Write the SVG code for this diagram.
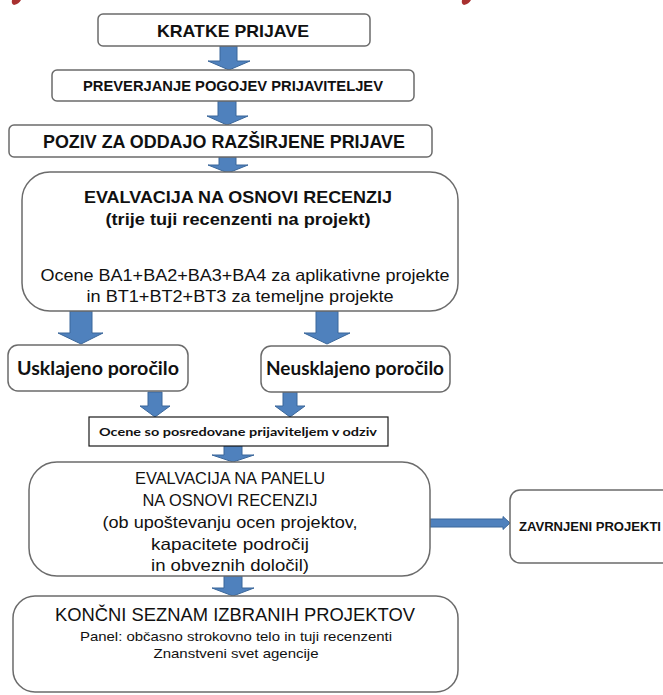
<svg xmlns="http://www.w3.org/2000/svg" width="663" height="695" viewBox="0 0 663 695">
<defs>
<style>
.box{fill:#ffffff;stroke:#6b6b6b;stroke-width:1.5}
.sq{fill:#ffffff;stroke:#1a1a1a;stroke-width:1.2}
.arr{fill:#4f81bd;stroke:#3b679a;stroke-width:1}
.t{font-family:"Liberation Sans",Arial,sans-serif;fill:#111;text-anchor:middle}
.b{font-weight:bold}
.c{font-family:Lato,"Open Sans","Liberation Sans",sans-serif;fill:#111;text-anchor:middle;font-weight:bold}
</style>
</defs>
<rect width="663" height="695" fill="#ffffff"/>
<g id="title-fragments" fill="#a8302f">
<path d="M12 0 L21 0 Q19 4 14 5 Q11 4 12 0 Z"/>
<path d="M462 0 L471 0 Q469 4 464 5 Q461 4 462 0 Z"/>
</g>
<g id="connectors">
<path class="arr" d="M220 46 H237 V61 H250 L229 70 L208 61 H220 Z"/>
<path class="arr" d="M218 101 H236 V116 H248 L227 125 L207 116 H218 Z"/>
<path class="arr" d="M219 157 H236 V165 H248 L228 173 L208 165 H219 Z"/>
<path class="arr" d="M70 311 H92 V333 H103 L81 344 L58 333 H70 Z"/>
<path class="arr" d="M316 311 H338 V333 H350 L327 344 L304 333 H316 Z"/>
<path class="arr" d="M148 392 H162 V406 H170 L155 417 L140 406 H148 Z"/>
<path class="arr" d="M283 392 H297 V406 H305 L290 417 L275 406 H283 Z"/>
<path class="arr" d="M224 446 H242 V455 H254 L233 462 L212 455 H224 Z"/>
<path class="arr" d="M224 576 H242 V588 H254 L233 596 L212 588 H224 Z"/>
<path class="arr" d="M430 519 H503 V516.5 L510 523 L503 529.5 V527 H430 Z"/>
</g>
<g id="n1"><rect class="box" x="98" y="14" width="272" height="32" rx="5"/>
<text class="t b" x="233" y="37" font-size="17" textLength="152" lengthAdjust="spacingAndGlyphs">KRATKE PRIJAVE</text></g>
<g id="n2"><rect class="box" x="52" y="70" width="362" height="31" rx="5"/>
<text class="t b" x="233" y="91" font-size="14" textLength="300" lengthAdjust="spacingAndGlyphs">PREVERJANJE POGOJEV PRIJAVITELJEV</text></g>
<g id="n3"><rect class="box" x="9" y="125" width="423" height="32" rx="5"/>
<text class="t b" x="224" y="148" font-size="18" textLength="362" lengthAdjust="spacingAndGlyphs">POZIV ZA ODDAJO RAZŠIRJENE PRIJAVE</text></g>
<g id="n4"><rect class="box" x="22" y="172" width="436" height="139" rx="28"/>
<text class="t b" x="238" y="203" font-size="16.5" textLength="308" lengthAdjust="spacingAndGlyphs">EVALVACIJA NA OSNOVI RECENZIJ</text>
<text class="t b" x="238" y="225" font-size="16.5" textLength="265" lengthAdjust="spacingAndGlyphs">(trije tuji recenzenti na projekt)</text>
<text class="t" x="245" y="281" font-size="16.5" textLength="409" lengthAdjust="spacingAndGlyphs">Ocene BA1+BA2+BA3+BA4 za aplikativne projekte</text>
<text class="t" x="240" y="302" font-size="16.5" textLength="307" lengthAdjust="spacingAndGlyphs">in BT1+BT2+BT3 za temeljne projekte</text></g>
<g id="n5"><rect class="box" x="8" y="345" width="180" height="46" rx="10"/>
<text class="c" x="98" y="375" font-size="19" textLength="162" lengthAdjust="spacingAndGlyphs">Usklajeno poročilo</text></g>
<g id="n6"><rect class="box" x="261" y="346" width="189" height="46" rx="10"/>
<text class="c" x="355" y="375" font-size="19" textLength="178" lengthAdjust="spacingAndGlyphs">Neusklajeno poročilo</text></g>
<g id="n7"><rect class="sq" x="89" y="417" width="299" height="29"/>
<text class="c" x="238" y="436" font-size="12" textLength="278" lengthAdjust="spacingAndGlyphs">Ocene so posredovane prijaviteljem v odziv</text></g>
<g id="n8"><rect class="box" x="29" y="462" width="401" height="114" rx="28"/>
<text class="t" x="230" y="484" font-size="16.5" textLength="190" lengthAdjust="spacingAndGlyphs">EVALVACIJA NA PANELU</text>
<text class="t" x="230" y="506" font-size="16.5" textLength="175" lengthAdjust="spacingAndGlyphs">NA OSNOVI RECENZIJ</text>
<text class="t" x="230" y="528" font-size="16.5" textLength="255" lengthAdjust="spacingAndGlyphs">(ob upoštevanju ocen projektov,</text>
<text class="t" x="230" y="550" font-size="16.5" textLength="158" lengthAdjust="spacingAndGlyphs">kapacitete področij</text>
<text class="t" x="230" y="571" font-size="16.5" textLength="158" lengthAdjust="spacingAndGlyphs">in obveznih določil)</text></g>
<g id="n9"><rect class="box" x="510" y="490" width="165" height="73" rx="10"/>
<text class="t b" x="590" y="531" font-size="13" textLength="142" lengthAdjust="spacingAndGlyphs">ZAVRNJENI PROJEKTI</text></g>
<g id="n10"><rect class="box" x="13" y="596" width="445" height="96" rx="22"/>
<text class="t" x="235" y="621" font-size="19" textLength="360" lengthAdjust="spacingAndGlyphs">KONČNI SEZNAM IZBRANIH PROJEKTOV</text>
<text class="t" x="236" y="641" font-size="13" textLength="312" lengthAdjust="spacingAndGlyphs">Panel: občasno strokovno telo in tuji recenzenti</text>
<text class="t" x="236" y="658" font-size="13" textLength="165" lengthAdjust="spacingAndGlyphs">Znanstveni svet agencije</text></g>
</svg>
